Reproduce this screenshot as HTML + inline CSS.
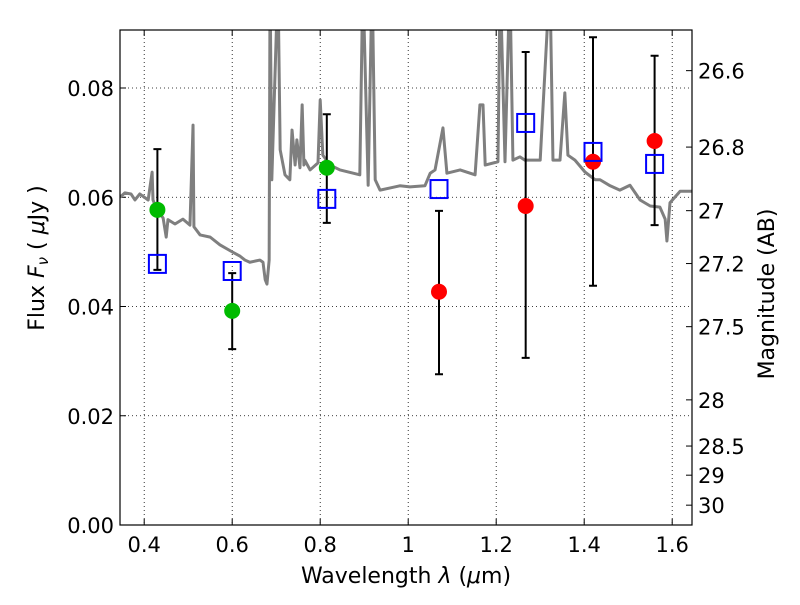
<!DOCTYPE html>
<html><head><meta charset="utf-8"><style>
body{margin:0;background:#fff}
svg text{font-family:"DejaVu Sans","Liberation Sans",sans-serif;fill:#000}
</style></head><body>
<svg id="c" width="800" height="600" xmlns="http://www.w3.org/2000/svg"></svg>
<script>
const specWl=[0.345,0.356,0.370,0.379,0.390,0.409,0.418,0.420,0.429,0.443,0.450,0.454,0.470,0.488,0.504,0.511,0.513,0.527,0.550,0.572,0.600,0.618,0.629,0.640,0.663,0.670,0.675,0.679,0.684,0.686,0.690,0.704,0.709,0.720,0.731,0.736,0.743,0.747,0.754,0.759,0.763,0.765,0.777,0.795,0.800,0.806,0.822,0.845,0.890,0.897,0.909,0.918,0.925,0.936,0.959,0.981,1.004,1.038,1.050,1.061,1.079,1.088,1.118,1.152,1.163,1.170,1.175,1.204,1.209,1.220,1.231,1.238,1.254,1.265,1.300,1.322,1.329,1.345,1.356,1.363,1.379,1.402,1.425,1.436,1.459,1.481,1.504,1.527,1.550,1.572,1.584,1.588,1.595,1.618,1.645];
const specFlux=[0.0600,0.0608,0.0606,0.0595,0.0606,0.0595,0.0646,0.0595,0.0577,0.0562,0.0527,0.0559,0.0551,0.0560,0.0549,0.0732,0.0546,0.0531,0.0527,0.0513,0.0500,0.0492,0.0485,0.0481,0.0485,0.0481,0.0449,0.0441,0.0485,0.1,0.0632,0.1,0.0687,0.0641,0.0632,0.0723,0.0659,0.0705,0.0654,0.0769,0.0659,0.0668,0.0650,0.0663,0.0778,0.0677,0.0659,0.0650,0.0641,0.1,0.0622,0.1,0.0632,0.0613,0.0617,0.0621,0.0619,0.0621,0.0644,0.0650,0.0727,0.0644,0.0650,0.0641,0.0769,0.0769,0.0659,0.0665,0.1,0.0665,0.1,0.0668,0.0674,0.0668,0.0668,0.1,0.0668,0.0668,0.0791,0.0677,0.0668,0.0646,0.0632,0.0632,0.0621,0.0613,0.0622,0.0595,0.0584,0.0582,0.0560,0.0520,0.0590,0.0611,0.0611];
const photWl=[0.43,0.60,0.815,1.07,1.267,1.42,1.56];
const photFlux=[0.0577,0.0392,0.0654,0.0427,0.0584,0.0665,0.0703];
const photColor=['#00bb00','#00bb00','#00bb00','red','red','red','red'];
const modelFlux=[0.0478,0.0465,0.0597,0.0615,0.0736,0.0683,0.0661];
const errLo=[0.0467,0.0322,0.0553,0.0276,0.0306,0.0438,0.0549];
const errHi=[0.0688,0.0461,0.0752,0.0575,0.0866,0.0893,0.0859];
const xTicks=[0.4,0.6,0.8,1.0,1.2,1.4,1.6];
const xTickLabels=['0.4','0.6','0.8','1','1.2','1.4','1.6'];
const yTicks=[0,0.02,0.04,0.06,0.08];
const yTickLabels=['0.00','0.02','0.04','0.06','0.08'];
const magTicks=[26.6,26.8,27,27.2,27.5,28,28.5,29,30];
const magLabels=['26.6','26.8','27','27.2','27.5','28','28.5','29','30'];

const L=120,R=692,T=30,B=525,X0=0.345,X1=1.645,Y0=0,Y1=(525-30)/5462.5;
const sx=v=>L+(v-X0)/(X1-X0)*(R-L);
const sy=v=>B-(v-Y0)/(Y1-Y0)*(B-T);
const svg=document.getElementById('c');
const NS='http://www.w3.org/2000/svg';
function mk(tag,attrs,parent){const e=document.createElementNS(NS,tag);for(const k in attrs)e.setAttribute(k,attrs[k]);(parent||svg).appendChild(e);return e;}
const defs=mk('defs',{});const cp=mk('clipPath',{id:'clip'},defs);mk('rect',{x:L,y:T,width:R-L,height:B-T},cp);
const FS=21;
xTicks.forEach((t,i)=>{
 const g=mk('line',{x1:sx(t),x2:sx(t),y1:T,y2:B,stroke:'#000','stroke-width':0.8,'stroke-dasharray':'1,3'});
 
 const tk=mk('path',{d:`M${sx(t)},${B}v-6M${sx(t)},${T}v6`,stroke:'#000','stroke-width':1});
 
 const tx=mk('text',{x:sx(t),y:B+27,'text-anchor':'middle','font-size':FS});tx.textContent=xTickLabels[i];
 
});
yTicks.forEach((t,i)=>{
 if(t>0){const g=mk('line',{x1:L,x2:R,y1:sy(t),y2:sy(t),stroke:'#000','stroke-width':0.8,'stroke-dasharray':'1,3'});
 }
 const tk=mk('path',{d:`M${L},${sy(t)}h6`,stroke:'#000','stroke-width':1});
 
 const tx=mk('text',{x:L-6,y:sy(t)+8,'text-anchor':'end','font-size':FS});tx.textContent=yTickLabels[i];
 
});
magTicks.forEach((m,i)=>{
 const f=Math.pow(10,(23.9-m)/2.5);const y=sy(f);
 const tk=mk('path',{d:`M${R},${y}h-6`,stroke:'#000','stroke-width':1});
 
 const tx=mk('text',{x:R+6,y:y+8,'font-size':FS});tx.textContent=magLabels[i];
 
});

const gc=mk('g',{'clip-path':'url(#clip)'});

const sp=mk('polyline',{points:specWl.map((w,i)=>sx(w)+','+sy(specFlux[i])).join(' '),fill:'none',stroke:'#7f7f7f','stroke-width':3,'stroke-linejoin':'round'},gc);


photWl.forEach((w,i)=>{
 const x=sx(w);
 const eb=mk('path',{d:`M${x},${sy(errLo[i])}V${sy(errHi[i])}M${x-4},${sy(errLo[i])}h8M${x-4},${sy(errHi[i])}h8`,stroke:'#000','stroke-width':2},gc);
 
 const c=mk('circle',{cx:x,cy:sy(photFlux[i]),r:8,fill:photColor[i]},gc);
 
 const s=mk('rect',{x:x-8.5,y:sy(modelFlux[i])-9,width:17,height:18,fill:'none',stroke:'#0000ff','stroke-width':2},gc);
 
});

const fr=mk('rect',{x:L,y:T,width:R-L,height:B-T,fill:'none',stroke:'#000','stroke-width':1.2});


const xl=mk('text',{x:406,y:583,'text-anchor':'middle','font-size':22});
xl.innerHTML='Wavelength  <tspan font-style="italic">λ</tspan> (<tspan font-style="italic">μ</tspan>m)';

const yl=mk('text',{x:0,y:0,'text-anchor':'middle','font-size':22,transform:'translate(44,258) rotate(-90)'});
yl.innerHTML='Flux  <tspan font-style="italic">F</tspan><tspan font-style="italic" font-size="15" dy="4">ν</tspan><tspan dy="-4">  (  </tspan><tspan font-style="italic">μ</tspan>Jy )';

const ml=mk('text',{x:0,y:0,'text-anchor':'middle','font-size':22,transform:'translate(774,294) rotate(-90)'});
ml.textContent='Magnitude (AB)';

</script>
</body></html>
